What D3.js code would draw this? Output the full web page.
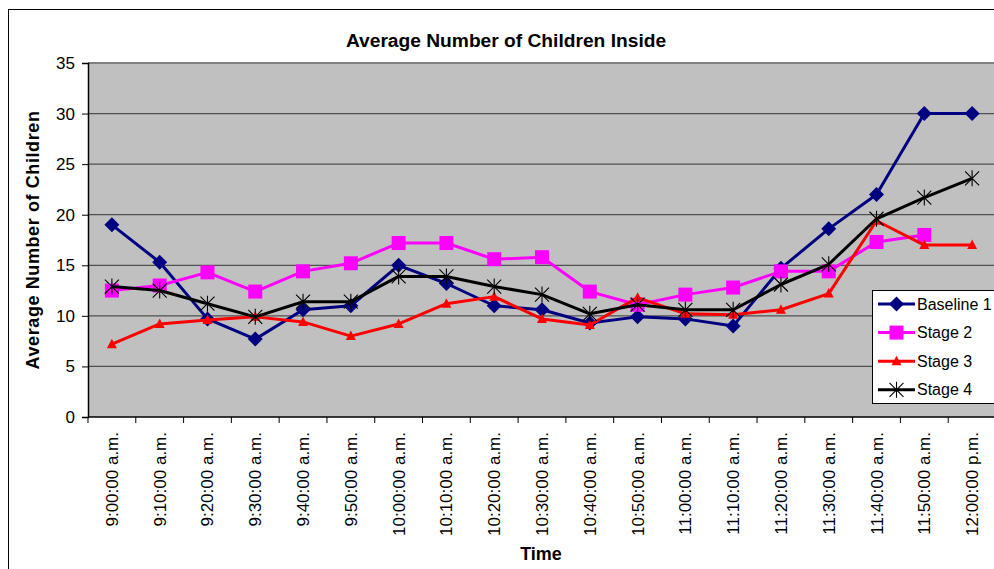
<!DOCTYPE html>
<html>
<head>
<meta charset="utf-8">
<script src="https://cdn.jsdelivr.net/npm/d3@7/dist/d3.min.js"></script>
<style>
  html, body { margin: 0; padding: 0; background: #fff; }
  svg { display: block; font-family: "Liberation Sans", Arial, sans-serif; }
</style>
</head>
<body>
<svg id="chart" width="994" height="569"></svg>
<script>
// Time slots along the x axis
const times = [
  "9:00:00 a.m.", "9:10:00 a.m.", "9:20:00 a.m.", "9:30:00 a.m.", "9:40:00 a.m.",
  "9:50:00 a.m.", "10:00:00 a.m.", "10:10:00 a.m.", "10:20:00 a.m.", "10:30:00 a.m.",
  "10:40:00 a.m.", "10:50:00 a.m.", "11:00:00 a.m.", "11:10:00 a.m.", "11:20:00 a.m.",
  "11:30:00 a.m.", "11:40:00 a.m.", "11:50:00 a.m.", "12:00:00 p.m."
];

// Average number of children inside, one array per stage
const baseline1 = [19.0, 15.3, 9.7, 7.7, 10.6, 11.0, 15.0, 13.2, 11.0, 10.6, 9.3, 9.9, 9.7, 9.0, 14.7, 18.6, 22.0, 30.0, 30.0];
const stage2    = [12.5, 13.0, 14.3, 12.4, 14.4, 15.2, 17.2, 17.2, 15.6, 15.8, 12.4, 11.1, 12.1, 12.8, 14.4, 14.4, 17.3, 18.0, null];
const stage3    = [7.2, 9.2, 9.6, 9.9, 9.4, 8.0, 9.2, 11.2, 11.9, 9.7, 9.1, 11.8, 10.2, 10.1, 10.6, 12.2, 19.4, 17.0, 17.0];
const stage4    = [12.9, 12.5, 11.2, 9.9, 11.4, 11.4, 13.9, 13.9, 12.9, 12.1, 10.2, 11.1, 10.6, 10.6, 13.1, 15.1, 19.6, 21.7, 23.6];

const yTicks = [0, 5, 10, 15, 20, 25, 30, 35];

const seriesNames = ["Baseline 1", "Stage 2", "Stage 3", "Stage 4"];
const seriesValues = [baseline1, stage2, stage3, stage4];
const seriesColors = ["#000080", "#FF00FF", "#FF0000", "#000000"];
const seriesMarkers = ["diamond", "square", "triangle", "star"];

const svg = d3.select("#chart");

// Outer chart frame
svg.append("rect")
  .attr("x", 8.5).attr("y", 9.5)
  .attr("width", 1100).attr("height", 700)
  .attr("fill", "#fff").attr("stroke", "#000").attr("stroke-width", 1);

const plot = { left: 88, right: 996, top: 63, bottom: 417 };

const x = d3.scaleBand().domain(times).range([plot.left, plot.right]).padding(0);
const y = d3.scaleLinear().domain([0, 35]).range([plot.bottom, plot.top]);

// Plot area background
svg.append("rect")
  .attr("x", plot.left).attr("y", plot.top)
  .attr("width", plot.right - plot.left).attr("height", plot.bottom - plot.top)
  .attr("fill", "#C0C0C0");

// Horizontal gridlines
svg.append("g")
  .selectAll("line")
  .data(yTicks.filter(t => t > 0 && t < 35))
  .join("line")
  .attr("x1", plot.left).attr("x2", plot.right)
  .attr("y1", d => y(d)).attr("y2", d => y(d))
  .attr("stroke", "#505050").attr("stroke-width", 1.2);

// Plot border on top
svg.append("line")
  .attr("x1", plot.left).attr("x2", plot.right)
  .attr("y1", plot.top).attr("y2", plot.top)
  .attr("stroke", "#808080").attr("stroke-width", 2);

// Y axis
const yAxis = d3.axisLeft(y).tickValues(yTicks).tickSize(6).tickPadding(7);
const gy = svg.append("g").attr("transform", `translate(${plot.left},0)`).call(yAxis);
gy.select(".domain").attr("stroke", "#000").attr("stroke-width", 1.5);
gy.selectAll(".tick line").attr("stroke", "#000");
gy.selectAll(".tick text")
  .attr("font-size", 17).attr("fill", "#000")
  .attr("font-family", "Liberation Sans, Arial, sans-serif");

// X axis: ticks sit between categories
const gx = svg.append("g").attr("transform", `translate(0,${plot.bottom})`);
gx.append("line")
  .attr("x1", plot.left).attr("x2", plot.right)
  .attr("stroke", "#000").attr("stroke-width", 1.5);
gx.selectAll("line.tick")
  .data(times.concat(["__end"]))
  .join("line").attr("class", "tick")
  .attr("x1", (d, i) => plot.left + i * x.bandwidth())
  .attr("x2", (d, i) => plot.left + i * x.bandwidth())
  .attr("y1", 0).attr("y2", 6)
  .attr("stroke", "#000");
gx.selectAll("text")
  .data(times)
  .join("text")
  .attr("transform", d => `translate(${x(d) + x.bandwidth() / 2 + 6},15) rotate(-90)`)
  .attr("text-anchor", "end")
  .attr("font-size", 17)
  .attr("fill", "#000")
  .text(d => d);

// Series lines and markers
const line = d3.line()
  .defined(d => d.v != null)
  .x(d => x(d.t) + x.bandwidth() / 2)
  .y(d => y(d.v));

function drawMarker(g, type, color) {
  if (type === "diamond") {
    g.append("path").attr("d", "M0,-7.5L7.5,0L0,7.5L-7.5,0Z").attr("fill", color);
  } else if (type === "square") {
    g.append("rect").attr("x", -7).attr("y", -7).attr("width", 14).attr("height", 14).attr("fill", color);
  } else if (type === "triangle") {
    g.append("path").attr("d", "M0,-5.5L5,4L-5,4Z").attr("fill", color);
  } else if (type === "star") {
    g.append("path")
      .attr("d", "M0,-8L0,8M-7,-7L7,7M-7,7L7,-7")
      .attr("stroke", color).attr("stroke-width", 1.1).attr("fill", "none");
  }
}

seriesValues.forEach((vals, si) => {
  const pts = vals.map((v, i) => ({ t: times[i], v }));
  const g = svg.append("g");
  g.append("path")
    .datum(pts)
    .attr("d", line)
    .attr("fill", "none")
    .attr("stroke", seriesColors[si])
    .attr("stroke-width", 3)
    .attr("stroke-linejoin", "round");
  pts.filter(p => p.v != null).forEach(p => {
    const m = g.append("g").attr("transform", `translate(${x(p.t) + x.bandwidth() / 2},${y(p.v)})`);
    drawMarker(m, seriesMarkers[si], seriesColors[si]);
  });
});

// Titles
svg.append("text")
  .attr("x", 506).attr("y", 47)
  .attr("text-anchor", "middle")
  .attr("font-size", 19.2).attr("font-weight", "bold")
  .text("Average Number of Children Inside");

svg.append("text")
  .attr("transform", `translate(39,${(plot.top + plot.bottom) / 2}) rotate(-90)`)
  .attr("text-anchor", "middle")
  .attr("font-size", 18).attr("font-weight", "bold")
  .attr("letter-spacing", 0.6)
  .text("Average Number of Children");

svg.append("text")
  .attr("x", 541).attr("y", 560)
  .attr("text-anchor", "middle")
  .attr("font-size", 18).attr("font-weight", "bold")
  .text("Time");

// Legend
const legend = svg.append("g");
legend.append("rect")
  .attr("x", 872.5).attr("y", 290.5)
  .attr("width", 140).attr("height", 113)
  .attr("fill", "#fff").attr("stroke", "#000").attr("stroke-width", 1);
seriesNames.forEach((name, i) => {
  const ly = 304 + i * 28.6;
  const row = legend.append("g");
  row.append("line")
    .attr("x1", 878).attr("x2", 915)
    .attr("y1", ly).attr("y2", ly)
    .attr("stroke", seriesColors[i]).attr("stroke-width", 3);
  const m = row.append("g").attr("transform", `translate(896.5,${ly})`);
  drawMarker(m, seriesMarkers[i], seriesColors[i]);
  row.append("text")
    .attr("x", 917).attr("y", ly + 5.5)
    .attr("font-size", 16)
    .text(name);
});
</script>
</body>
</html>
